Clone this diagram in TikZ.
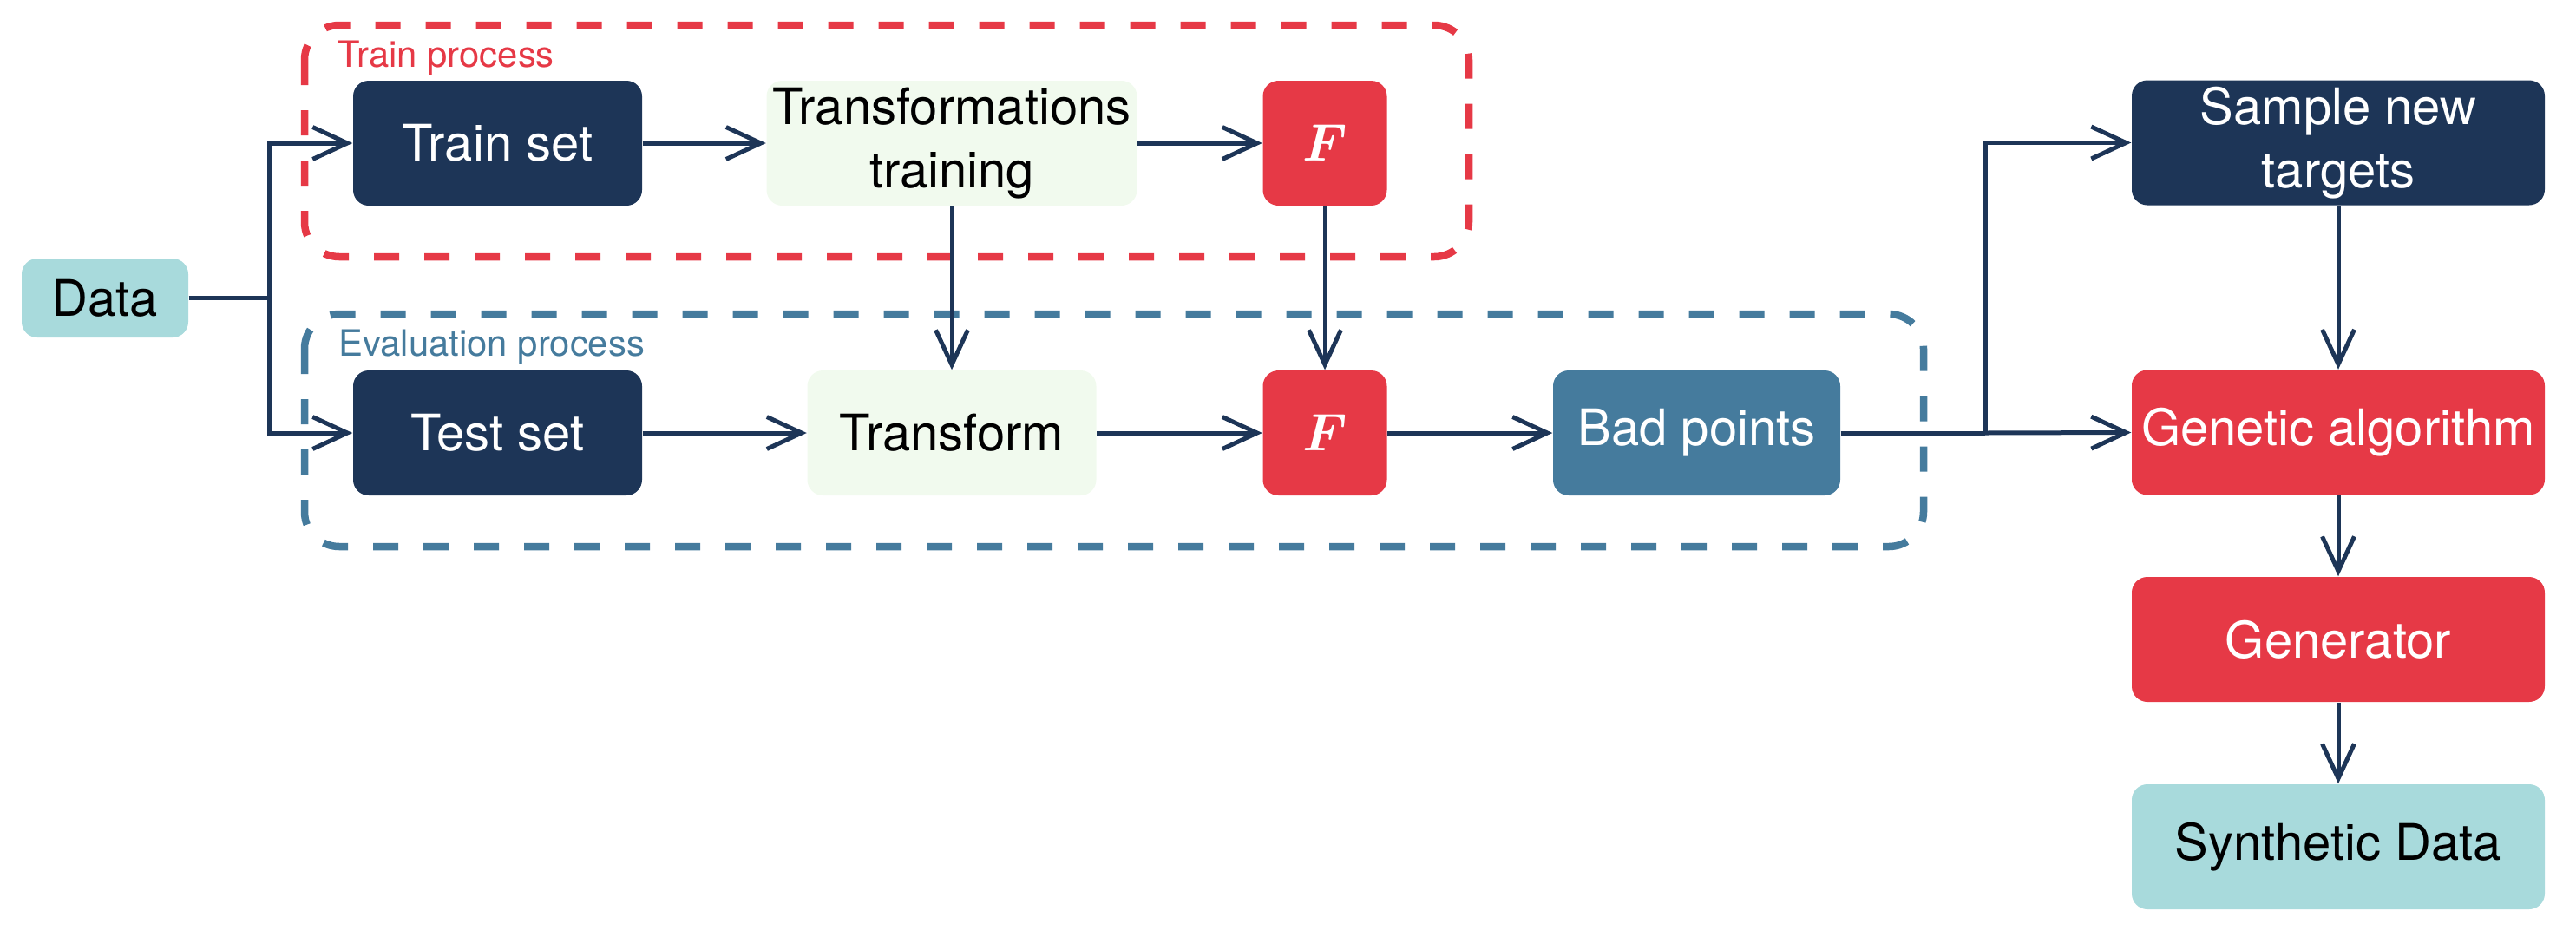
\documentclass[tikz,border=0pt]{standalone}
\usepackage{fontspec}
\setmainfont{TeX Gyre Heros}
\usepackage{bm}
\usetikzlibrary{arrows.meta}
\definecolor{navy}{HTML}{1D3557}
\definecolor{redc}{HTML}{E63946}
\definecolor{honey}{HTML}{F1FAEE}
\definecolor{tealc}{HTML}{A8DADC}
\definecolor{steel}{HTML}{457B9D}
\tikzset{
  box/.style={rounded corners=0.18cm, minimum height=1.44cm, inner sep=0pt, align=center,
    font=\fontsize{16.5}{20.7}\selectfont},
  darkbox/.style={box, fill=navy, text=white},
  lightbox/.style={box, fill=honey, text=black},
  redbox/.style={box, fill=redc, text=white},
  steelbox/.style={box, fill=steel, text=white},
  tealbox/.style={box, fill=tealc, text=black},
  conn/.style={draw=navy, line width=0.05cm, -{Straight Barb[length=0.4cm,width=0.37cm]}},
  plain/.style={draw=navy, line width=0.05cm},
  frame/.style={line width=0.085cm, dash pattern=on 0.29cm off 0.29cm, rounded corners=0.4cm},
  framelabel/.style={anchor=base west, inner sep=0pt, font=\fontsize{11.9}{14}\selectfont},
  ffont/.style={font=\fontsize{19}{22}\selectfont}
}
\begin{document}
\begin{tikzpicture}
\useasboundingbox (0,0) rectangle (29.69,-10.79);
% frames
\draw[frame, draw=redc] (3.51,-0.29) rectangle (16.93,-2.96);
\draw[frame, draw=steel] (3.51,-3.62) rectangle (22.17,-6.30);
\node[framelabel, text=redc] (trainlbl) at (3.89,-0.77) {Train process};
\node[framelabel, text=steel] (evallbl) at (3.90,-4.10) {Evaluation process};
% nodes
\node[tealbox, minimum width=1.92cm, minimum height=0.91cm] (data) at (1.21,-3.435) {Data};
\node[darkbox, minimum width=3.33cm] (train) at (5.735,-1.65) {Train set};
\node[lightbox, minimum width=4.27cm] (transT) at (10.97,-1.65) {Transformations\\training};
\node[redbox, minimum width=1.43cm, ffont] (Ftop) at (15.27,-1.65) {$\bm{F}$};
\node[darkbox, minimum width=3.33cm] (test) at (5.735,-4.99) {Test set};
\node[lightbox, minimum width=3.33cm] (transf) at (10.97,-4.99) {Transform};
\node[redbox, minimum width=1.43cm, ffont] (Fbot) at (15.27,-4.99) {$\bm{F}$};
\node[steelbox, minimum width=3.31cm] (bad) at (19.555,-4.99) {Bad points};
\node[darkbox, minimum width=4.76cm] (sample) at (26.95,-1.645) {Sample new\\targets};
\node[redbox, minimum width=4.76cm] (genetic) at (26.95,-4.985) {Genetic algorithm};
\node[redbox, minimum width=4.76cm] (generator) at (26.95,-7.37) {Generator};
\node[tealbox, minimum width=4.76cm] (synth) at (26.95,-9.76) {Synthetic Data};
% junctions
\coordinate (split) at (3.10,-3.435);
\coordinate (merge) at (22.88,-4.99);
% connectors
\draw[plain] (data.east) -- (split);
\draw[conn] (split) |- (train.west);
\draw[conn] (split) |- (test.west);
\draw[conn] (train) -- (transT);
\draw[conn] (transT) -- (Ftop);
\draw[conn] (transT.south) -- (transf.north);
\draw[conn] (Ftop.south) -- (Fbot.north);
\draw[conn] (test) -- (transf);
\draw[conn] (transf) -- (Fbot);
\draw[conn] (Fbot) -- (bad);
\draw[plain] (bad.east) -- (merge);
\draw[conn] (merge) -- (genetic.west);
\draw[conn] (merge) |- (sample.west);
\draw[conn] (sample) -- (genetic);
\draw[conn] (genetic) -- (generator);
\draw[conn] (generator) -- (synth);
\end{tikzpicture}
\end{document}
